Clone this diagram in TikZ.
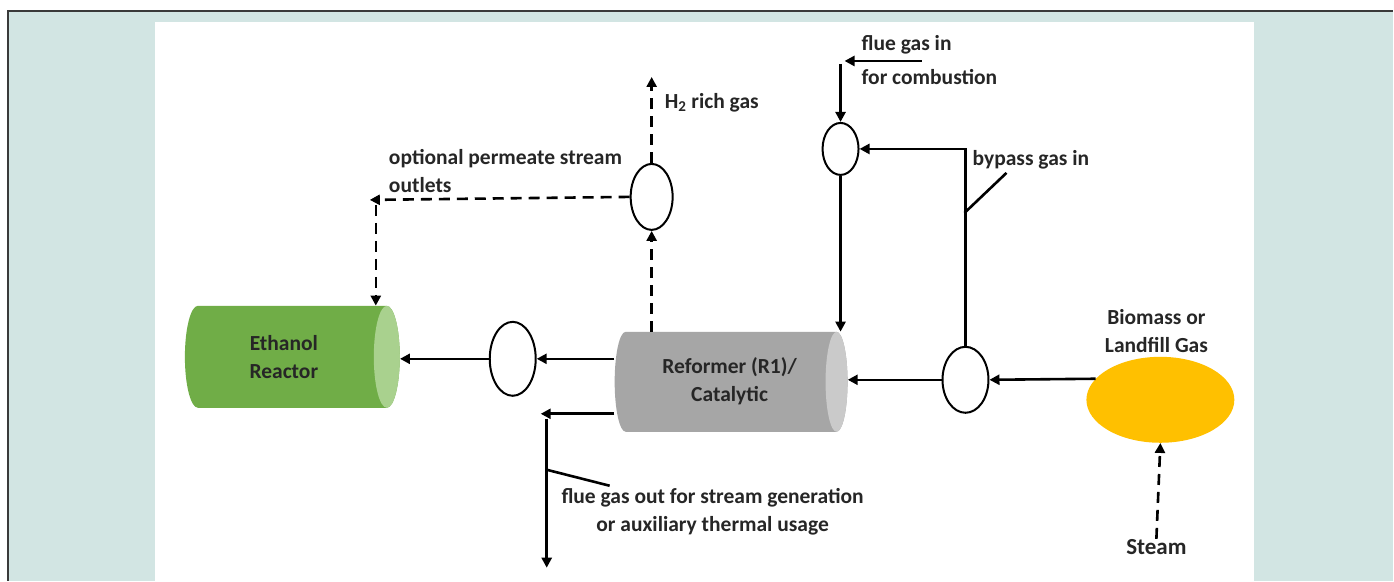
\documentclass[tikz,border=0pt]{standalone}
\usepackage{fontspec}
\setmainfont{Carlito}
\usetikzlibrary{shapes.geometric,arrows.meta,calc}
\definecolor{bgteal}{HTML}{D2E5E3}
\definecolor{framegray}{HTML}{3A3A3A}
\definecolor{greenbody}{HTML}{70AD47}
\definecolor{greenend}{HTML}{A9D18E}
\definecolor{graybody}{HTML}{A6A6A6}
\definecolor{grayend}{HTML}{CACACA}
\definecolor{gold}{HTML}{FFC000}
\definecolor{txt}{HTML}{262626}
\begin{document}
\begin{tikzpicture}[x=1pt,y=-1pt,
  font=\bfseries\fontsize{21.5}{28}\selectfont,
  every node/.style={text=txt},
  arr/.style={draw=black,line width=2.6pt,-{Triangle[length=10pt,width=10pt]}},
  darr/.style={arr,dash pattern=on 11pt off 7pt},
  plainline/.style={draw=black,line width=2.6pt},
  valve/.style={ellipse,draw=black,line width=2pt,fill=white,inner sep=0pt},
  box/.style={rectangle,inner sep=0pt},
  lbl/.style={inner sep=0pt,align=left}]
% background
\fill[white] (0,0) rectangle (1394,581);
\fill[bgteal] (8,11) rectangle (1394,581);
\fill[white] (155,22) rectangle (1255,581);
\draw[framegray,line width=1.5pt] (8,581) -- (8,11) -- (1394,11);
% ethanol reactor cylinder
\fill[greenbody] (387,306) -- (198,306) arc[start angle=-90,end angle=-270,x radius=13,y radius=51]
  -- (387,408) arc[start angle=90,end angle=-90,x radius=13,y radius=51] -- cycle;
\fill[greenend] (387,357) ellipse[x radius=13,y radius=51];
\node[box,minimum width=215pt,minimum height=102pt] (eth) at (292.5,357) {};
% reformer cylinder
\fill[graybody] (837,332) -- (626,332) arc[start angle=-90,end angle=-270,x radius=11,y radius=50]
  -- (837,432) arc[start angle=90,end angle=-90,x radius=11,y radius=50] -- cycle;
\fill[grayend] (837,382) ellipse[x radius=11,y radius=50];
\node[box,minimum width=233pt,minimum height=100pt] (ref) at (731.5,382) {};
\node[lbl,align=center] (ethtxt) at (284,357) {Ethanol\\Reactor};
\node[lbl,align=center] (reftxt) at (730,381) {Reformer (R1)/\\Catalytic};
\node[valve,minimum width=46pt,minimum height=74pt] (v1) at (513,359) {};
\node[valve,minimum width=42pt,minimum height=66pt] (v2) at (652,197) {};
\node[valve,minimum width=36pt,minimum height=52pt] (v3) at (841,149) {};
\node[valve,minimum width=46pt,minimum height=66pt] (v4) at (966,380) {};
\node[ellipse,fill=gold,inner sep=0pt,minimum width=148pt,minimum height=86pt] (bio) at (1161,400) {};
% labels
\node[lbl,align=center] (lbio) at (1157,331) {Biomass or\\Landfill Gas};
\node[lbl,anchor=west] (lopt) at (389,171) {optional permeate stream\\outlets};
\node[lbl,anchor=west] (lh2) at (665,103) {H\textsubscript{2} rich gas};
\node[lbl,anchor=west] (lfin) at (862,45) {flue gas in};
\node[lbl,anchor=west] (lfor) at (862,77) {for combustion};
\node[lbl,anchor=west] (lbyp) at (973,160) {bypass gas in};
\node[lbl,align=center] (lflue) at (713,512) {flue gas out for stream generation\\or auxiliary thermal usage};
\node[lbl,font=\bfseries\fontsize{23}{28}\selectfont] (lsteam) at (1157,547) {Steam};
% coordinates
\coordinate (fo) at (541,414);
\coordinate (fv) at (547,419);
\coordinate (fend) at (547,568);
\coordinate (fl1) at (547,470);
\coordinate (fl2) at (610,486);
\coordinate (h2e) at (652,77);
\coordinate (pc) at (370,200);
\coordinate (pv) at (376,205);
\coordinate (fgi) at (922,61);
\coordinate (fgo) at (845,61);
\coordinate (fgv) at (841,64);
\coordinate (bl1) at (965,213);
\coordinate (bl2) at (1007,173);
% connectors
\draw[arr] (v1.west) -- (v1.west -| eth.east);
\draw[arr] (ref.west |- v1) -- (v1.east);
\draw[arr] (ref.west |- fo) -- (fo);
\draw[arr] (fv) -- (fend);
\draw[plainline] (fl1) -- (fl2);
\draw[darr] (v2.south |- ref.north) -- (v2.south);
\draw[darr] (v2.north) -- (h2e);
\draw[darr] (v2.west) -- (pc);
\draw[darr] (pv) -- (pv |- eth.north);
\draw[arr] (fgi) -- (fgo);
\draw[arr] (fgv) -- (v3.north);
\draw[arr] (v3.south) -- (v3.south |- ref.north);
\draw[arr] (v4.north) |- (v3.east);
\draw[plainline] (bl1) -- (bl2);
\draw[arr] (v4.west) -- (v4.west -| ref.east);
\draw[arr] (bio.162) -- (v4.east);
\draw[darr] (lsteam.north) -- (bio.south);
\end{tikzpicture}
\end{document}
